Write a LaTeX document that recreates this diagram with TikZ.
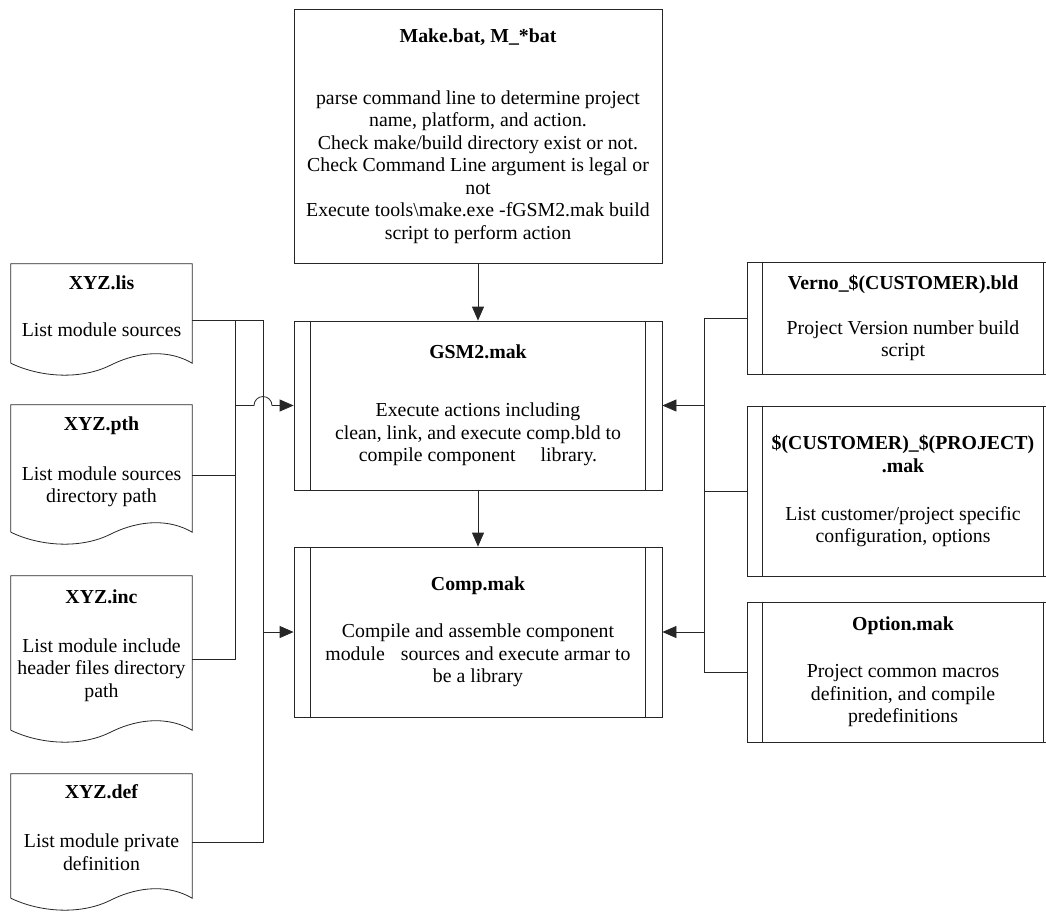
\documentclass[tikz,border=0pt]{standalone}
\usepackage{fontspec}
\setmainfont{Liberation Serif}
\usetikzlibrary{arrows.meta}
\usetikzlibrary{positioning}
\usetikzlibrary{calc}

\begin{document}
\begin{tikzpicture}[x=1pt,y=-1pt,
	wire/.style={draw=black!85,line width=0.8pt},
	feed/.style={wire,-{Triangle[length=14pt,width=12pt]}},
	box/.style={rectangle,align=center,inner sep=0pt,font=\fontsize{19.8}{22.5}\selectfont},
	proc/.style={box,wire,minimum width=368pt},
	side/.style={box,wire,minimum width=312pt},
	doc/.style={rectangle,inner sep=0pt,minimum width=181pt}]
	
	\clip (0,0) rectangle (1046,911);
	
	% middle column
	\node[proc,minimum height=254pt] (make) at (478,136) {\textbf{Make.bat, M\_*bat}\\[39.5pt]parse command line to determine project\\name, platform, and action.\\Check make/build directory exist or not.\\Check Command Line argument is legal or\\not\\Execute tools\textbackslash make.exe -fGSM2.mak build\\script to perform action};
	\node[proc,minimum height=169pt] (gsm) at (478,405.5) {\textbf{GSM2.mak}\\[35.5pt]Execute actions including\\clean, link, and execute comp.bld to\\compile component\hspace{25pt}library.};
	\node[proc,minimum height=170pt] (comp) at (478,632) {\textbf{Comp.mak}\\[24.5pt]Compile and assemble component\\module\hspace{16pt}sources and execute armar to\\be a library};
	
	% left column (documents)
	\node[doc,minimum height=112pt] (lis) at (101.5,320) {};
	\node[doc,minimum height=140pt] (pth) at (101.5,475) {};
	\node[doc,minimum height=167pt] (inc) at (101.5,659.5) {};
	\node[doc,minimum height=137pt] (def) at (101.5,842.5) {};
	\node[box,below=11.6pt of lis.north] (lis-t) {\textbf{XYZ.lis}\\[24.5pt]List module sources};
	\node[box,below=11.6pt of pth.north] (pth-t) {\textbf{XYZ.pth}\\[27.5pt]List module sources\\directory path};
	\node[box,below=13.6pt of inc.north] (inc-t) {\textbf{XYZ.inc}\\[26.5pt]List module include\\header files directory\\path};
	\node[box,below=10.6pt of def.north] (def-t) {\textbf{XYZ.def}\\[26.5pt]List module private\\definition};
	\foreach \n in {lis,pth,inc,def}
	\draw[wire] ($(\n.south west)+(0,-13)$) -- (\n.north west) -- (\n.north east) -- ($(\n.south east)+(0,-13)$)
	.. controls +(-22,-13) and +(30,-15) .. ($(\n.south)+(9,-11)$)
	.. controls +(-30,15) and +(29,14) .. ($(\n.south west)+(0,-13)$);
	
	% right column
	\node[side,minimum height=112pt] (verno) at (903,318) {\textbf{Verno\_\$(CUSTOMER).bld}\\[22.5pt]Project Version number build\\script};
	\node[side,minimum height=170pt] (cust) at (903,491) {\textbf{\$(CUSTOMER)\_\$(PROJECT)}\\\textbf{.mak}\\[25.5pt]List customer/project specific\\configuration, options};
	\node[side,minimum height=140pt] (opt) at (903,672) {\textbf{Option.mak}\\[24.5pt]Project common macros\\definition, and compile\\predefinitions};
	
	\foreach \n/\d in {gsm/17,comp/17,verno/16,cust/16,opt/16} {
		\draw[wire] ([xshift=\d]\n.north west) -- ([xshift=\d]\n.south west);
		\draw[wire] ([xshift=-\d]\n.north east) -- ([xshift=-\d]\n.south east);
	}
	
	% buses
	\coordinate (la) at (235,0);
	\coordinate (lb) at (263,0);
	\coordinate (ra) at (704,0);
	
	\draw[feed] (make) -- (gsm);
	\draw[feed] (gsm) -- (comp);
	
	\draw[wire] (lis.east) -- (lis.east -| lb) -- (def.east -| lb) -- (def.east);
	\draw[wire] (lis.east -| la) -- (inc.east -| la) -- (inc.east);
	\draw[wire] (pth.east) -- (pth.east -| la);
	\draw[feed] (gsm.west -| la) -- ([xshift=-9]gsm.west -| lb) arc[start angle=180,end angle=0,radius=9pt] -- (gsm.west);
	\draw[feed] (comp.west -| lb) -- (comp.west);
	
	\draw[wire] (verno.west) -- (verno.west -| ra) -- (opt.west -| ra) -- (opt.west);
	\draw[wire] (cust.west) -- (cust.west -| ra);
	\draw[feed] (gsm.east -| ra) -- (gsm.east);
	\draw[feed] (comp.east -| ra) -- (comp.east);
\end{tikzpicture}
\end{document}
